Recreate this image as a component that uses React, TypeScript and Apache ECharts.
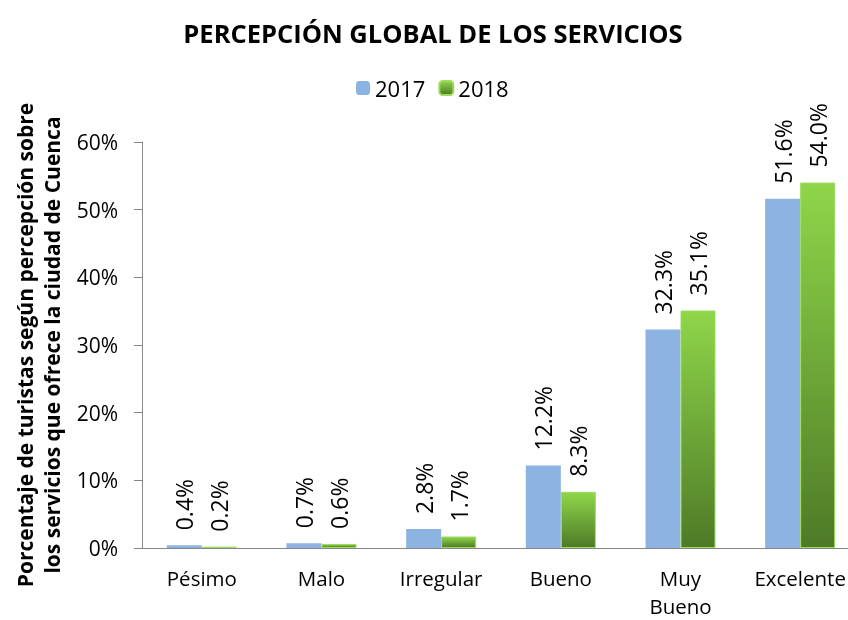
import React, { useEffect, useRef } from "react";
import * as echarts from "echarts";

const categories = ["Pésimo", "Malo", "Irregular", "Bueno", "Muy Bueno", "Excelente"];
const values2017 = [0.4, 0.7, 2.8, 12.2, 32.3, 51.6];
const values2018 = [0.2, 0.6, 1.7, 8.3, 35.1, 54.0];
const yTicks = [0, 10, 20, 30, 40, 50, 60];

const FONT = "'Open Sans', 'Noto Sans', sans-serif";

export default function App() {
  const ref = useRef<HTMLDivElement>(null);
  useEffect(() => {
    if (!ref.current) return;
    const chart = echarts.init(ref.current, null, { renderer: "svg" });
    const green = new echarts.graphic.LinearGradient(0, 0, 0, 1, [
      { offset: 0, color: "#8fd64a" },
      { offset: 1, color: "#4e7a27" },
    ]);
    const labelCfg = {
      show: true,
      position: "top",
      rotate: 90,
      align: "left",
      verticalAlign: "middle",
      distance: 15,
      fontFamily: FONT,
      fontSize: 23,
      color: "#000",
      formatter: (p: any) => p.value.toFixed(1) + "%",
    };
    chart.setOption({
      animation: false,
      title: {
        text: "PERCEPCIÓN GLOBAL DE LOS SERVICIOS",
        left: 428,
        textAlign: "center",
        top: 15,
        textStyle: { fontFamily: FONT, fontWeight: "bold", fontSize: 25.5, color: "#000" },
      },
      legend: {
        top: 72,
        left: 351,
        itemWidth: 14,
        itemHeight: 14,
        itemGap: 13,
        textStyle: { fontFamily: FONT, fontSize: 22, color: "#000" },
        data: ["2017", "2018"],
      },
      grid: {
        left: 142,
        right: -12,
        top: 142,
        bottom: 72,
        containLabel: false,
        outerBoundsMode: "none",
      },
      xAxis: {
        type: "category",
        data: categories,
        axisLine: { show: true, lineStyle: { color: "#868686", width: 1 } },
        axisTick: { show: false },
        axisLabel: {
          interval: 0,
          margin: 16,
          fontFamily: FONT,
          fontSize: 20.5,
          lineHeight: 28,
          color: "#000",
          formatter: (v: string) => v.replace(" ", "\n"),
        },
      },
      yAxis: {
        type: "value",
        min: 0,
        max: 60,
        interval: 10,
        name: "Porcentaje de turistas según percepción sobre\nlos servicios que ofrece la ciudad de Cuenca",
        nameLocation: "middle",
        nameRotate: 90,
        nameGap: 73,
        nameTextStyle: { fontFamily: FONT, fontWeight: "bold", fontSize: 21, lineHeight: 27, color: "#000" },
        splitLine: { show: false },
        axisLine: { show: true, lineStyle: { color: "#868686", width: 1 } },
        axisTick: { show: true, length: 8, inside: false, lineStyle: { color: "#868686" } },
        axisLabel: {
          margin: 24,
          fontFamily: FONT,
          fontSize: 21,
          color: "#000",
          formatter: (v: number) => (yTicks.includes(v) ? v + "%" : ""),
        },
      },
      series: [
        {
          name: "2017",
          type: "bar",
          data: values2017,
          barWidth: 35,
          barGap: "0%",
          itemStyle: { color: "#8db3e2" },
          label: labelCfg,
        },
        {
          name: "2018",
          type: "bar",
          data: values2018,
          barWidth: 35,
          barGap: "0%",
          itemStyle: { color: green, borderColor: "#9ddc5e", borderWidth: 1 },
          label: labelCfg,
        },
      ],
    });
    return () => chart.dispose();
  }, []);
  return (
    <div
      ref={ref}
      style={{ position: "fixed", left: 0, top: 0, width: 848, height: 620 }}
    />
  );
}
